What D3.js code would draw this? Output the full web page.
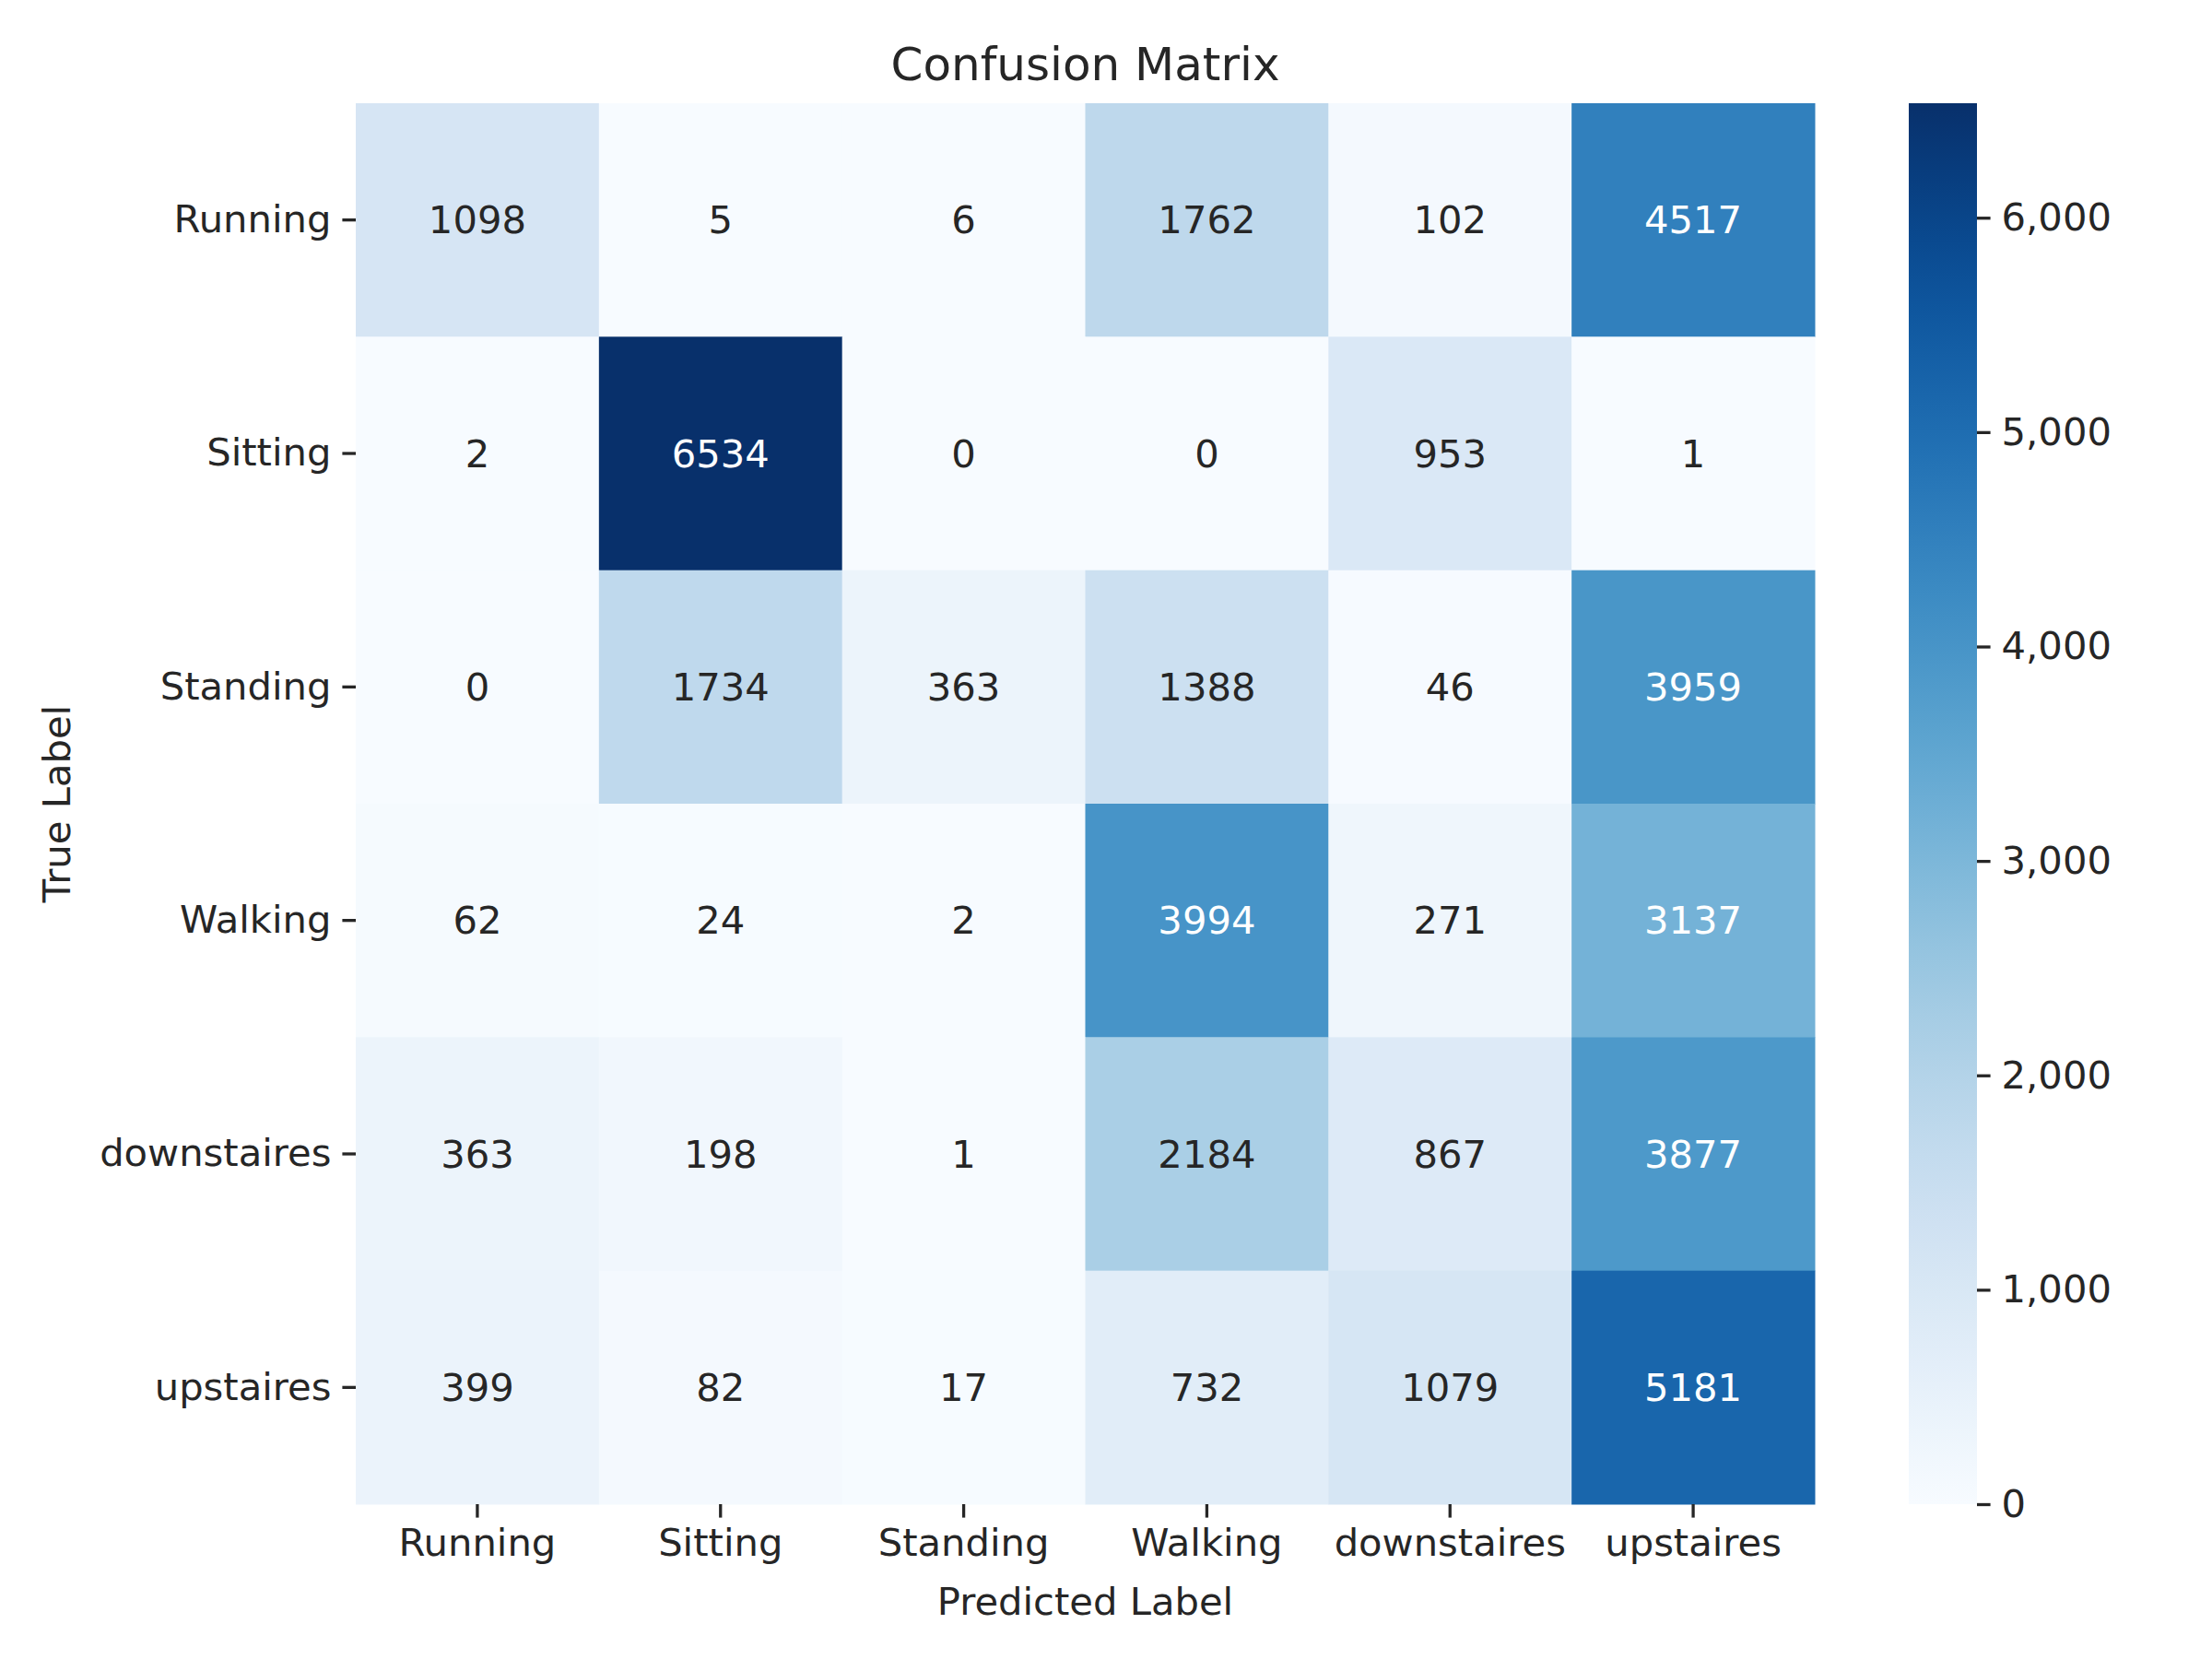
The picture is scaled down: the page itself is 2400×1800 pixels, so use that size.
<!DOCTYPE html>
<html><head><meta charset="utf-8">
<script src="https://cdn.jsdelivr.net/npm/d3@7"></script>
<style>body{margin:0;background:#fff}text{font-family:"DejaVu Sans",sans-serif;fill:#262626}</style>
</head><body><div id="chart"></div>
<script>
var labels = ["Running","Sitting","Standing","Walking","downstaires","upstaires"];
var matrix = [
  [1098,5,6,1762,102,4517],
  [2,6534,0,0,953,1],
  [0,1734,363,1388,46,3959],
  [62,24,2,3994,271,3137],
  [363,198,1,2184,867,3877],
  [399,82,17,732,1079,5181]
];
var cbTicks = [0,1000,2000,3000,4000,5000,6000];

var W = 2400, H = 1800;
var margin = {top:112, left:386, right:1969, bottom:1632};
var svg = d3.select("#chart").append("svg").attr("width", W).attr("height", H);

var x = d3.scaleBand().domain(labels).range([margin.left, margin.right]);
var y = d3.scaleBand().domain(labels).range([margin.top, margin.bottom]);
var vmax = d3.max(matrix.flat());
var color = d3.scaleSequential(d3.interpolateBlues).domain([0, vmax]);

var cells = [];
matrix.forEach(function(row, i){ row.forEach(function(v, j){ cells.push({r:labels[i], c:labels[j], v:v}); }); });

svg.selectAll("rect.cell").data(cells).enter().append("rect")
  .attr("x", d => x(d.c)).attr("y", d => y(d.r))
  .attr("width", x.bandwidth()+0.5).attr("height", y.bandwidth()+0.5)
  .style("fill", d => color(d.v));

function lum(c){
  var rgb = d3.rgb(c);
  var f = v => { v/=255; return v <= 0.03928 ? v/12.92 : Math.pow((v+0.055)/1.055, 2.4); };
  return 0.2126*f(rgb.r)+0.7152*f(rgb.g)+0.0722*f(rgb.b);
}
svg.selectAll("text.ann").data(cells).enter().append("text")
  .attr("x", d => x(d.c)+x.bandwidth()/2).attr("y", d => y(d.r)+y.bandwidth()/2)
  .attr("text-anchor","middle").attr("dominant-baseline","central")
  .style("font-size","41.7px")
  .style("fill", d => lum(color(d.v)) > 0.408 ? "#262626" : "#ffffff")
  .text(d => d.v);

function styleAxis(g){
  g.select(".domain").remove();
  g.selectAll(".tick line").attr("stroke","#262626").attr("stroke-width",3.3);
  g.selectAll(".tick text").style("font-size","41.7px").style("fill","#262626").attr("font-family",null);
}
svg.append("g").attr("transform","translate(0,"+margin.bottom+")")
  .call(d3.axisBottom(x).tickSize(14.6).tickPadding(12)).call(styleAxis);
svg.append("g").attr("transform","translate("+margin.left+",0)")
  .call(d3.axisLeft(y).tickSize(14.6).tickPadding(12)).call(styleAxis);

// colorbar
var cbX = 2071, cbW = 74;
var cy = d3.scaleLinear().domain([0, vmax]).range([margin.bottom, margin.top]);
var grad = svg.append("defs").append("linearGradient").attr("id","cb")
  .attr("x1","0").attr("y1","1").attr("x2","0").attr("y2","0");
d3.range(0,1.0001,0.05).forEach(function(t){
  grad.append("stop").attr("offset", t).attr("stop-color", color(t*vmax));
});
svg.append("rect").attr("x",cbX).attr("y",margin.top).attr("width",cbW)
  .attr("height",margin.bottom-margin.top).style("fill","url(#cb)");
svg.append("g").attr("transform","translate("+(cbX+cbW)+",0)")
  .call(d3.axisRight(cy).tickValues(cbTicks).tickSize(14.6).tickPadding(12)).call(styleAxis);

svg.append("text").attr("x",(margin.left+margin.right)/2).attr("y",87)
  .attr("text-anchor","middle").style("font-size","50px").text("Confusion Matrix");
svg.append("text").attr("x",(margin.left+margin.right)/2).attr("y",1752)
  .attr("text-anchor","middle").style("font-size","41.7px").text("Predicted Label");
svg.append("text").attr("transform","translate(76,"+((margin.top+margin.bottom)/2)+") rotate(-90)")
  .attr("text-anchor","middle").style("font-size","41.7px").text("True Label");
</script></body></html>
